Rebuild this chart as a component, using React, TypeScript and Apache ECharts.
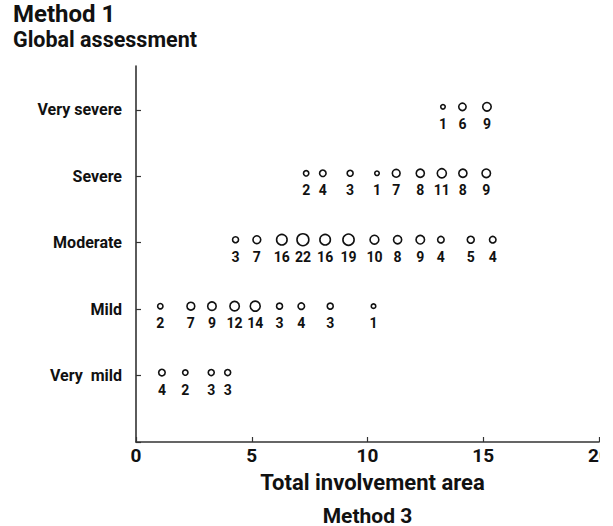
import React, { useEffect, useRef } from "react";
import * as echarts from "echarts";

// Severity categories (y axis, bottom to top)
const severityLabels = ["Very  mild", "Mild", "Moderate", "Severe", "Very severe"];
const xTicks = [0, 5, 10, 15, 20];

// Total involvement area (x) and counts (circle size + label) per severity row
const veryMildX = [1.12, 2.13, 3.25, 3.96];
const veryMildN = [4, 2, 3, 3];
const mildX = [1.05, 2.37, 3.28, 4.26, 5.15, 6.2, 7.14, 8.39, 10.26];
const mildN = [2, 7, 9, 12, 14, 3, 4, 3, 1];
const moderateX = [4.3, 5.22, 6.3, 7.21, 8.17, 9.18, 10.3, 11.3, 12.28, 13.17, 14.46, 15.41];
const moderateN = [3, 7, 16, 22, 16, 19, 10, 8, 9, 4, 5, 4];
const severeX = [7.35, 8.07, 9.25, 10.41, 11.24, 12.28, 13.21, 14.12, 15.13];
const severeN = [2, 4, 3, 1, 7, 8, 11, 8, 9];
const verySevereX = [13.26, 14.1, 15.16];
const verySevereN = [1, 6, 9];

const rowsX = [veryMildX, mildX, moderateX, severeX, verySevereX];
const rowsN = [veryMildN, mildN, moderateN, severeN, verySevereN];

const FONT = "Roboto, 'Open Sans', sans-serif";

export default function App() {
  const ref = useRef<HTMLDivElement>(null);
  useEffect(() => {
    if (!ref.current) return;
    const chart = echarts.init(ref.current, null, { renderer: "svg" });
    const data: number[][] = [];
    rowsX.forEach((xs, r) => {
      xs.forEach((x, i) => data.push([x, r + 1, rowsN[r][i]]));
    });
    chart.setOption({
      animation: false,
      backgroundColor: "#fff",
      grid: { left: 136, right: 14, top: 66, bottom: 84, containLabel: false, outerBoundsMode: "none" },
      graphic: [
        {
          type: "text",
          left: 13,
          top: 2,
          style: { text: "Method 1", font: `bold 24px ${FONT}`, fill: "#111" },
        },
        {
          type: "text",
          left: 13,
          top: 28,
          style: { text: "Global assessment", font: `bold 21.5px ${FONT}`, fill: "#111" },
        },
      ],
      xAxis: {
        type: "value",
        min: 0,
        max: 20,
        interval: 5,
        axisLine: { show: true, lineStyle: { color: "#333", width: 1.6 } },
        axisTick: { show: true, inside: true, length: 5, lineStyle: { color: "#333", width: 1.2 } },
        splitLine: { show: false },
        axisLabel: {
          color: "#111",
          fontFamily: FONT,
          fontWeight: "bold",
          fontSize: 19,
          margin: 4,
          formatter: (v: number) => (xTicks.includes(v) ? String(v) : ""),
        },
        name: "{a|Total involvement area}\n{b|Method 3}",
        nameLocation: "middle",
        nameGap: 24,
        nameTextStyle: {
          color: "#111",
          fontFamily: FONT,
          fontWeight: "bold",
          rich: {
            a: { fontFamily: FONT, fontWeight: "bold", fontSize: 22, lineHeight: 33, color: "#111", padding: [0, 0, 0, 10] },
            b: { fontFamily: FONT, fontWeight: "bold", fontSize: 21, lineHeight: 33, color: "#111" },
          },
        },
      },
      yAxis: {
        type: "value",
        min: 0,
        max: 5.66,
        interval: 1,
        axisLine: { show: true, lineStyle: { color: "#333", width: 1.6 } },
        axisTick: { show: true, inside: true, length: 5, lineStyle: { color: "#333", width: 1.2 } },
        splitLine: { show: false },
        axisLabel: {
          color: "#111",
          fontFamily: FONT,
          fontWeight: "bold",
          fontSize: 16,
          margin: 14,
          showMaxLabel: false,
          formatter: (v: number) => (Number.isInteger(v) && v >= 1 ? severityLabels[v - 1] || "" : ""),
        },
      },
      series: [
        {
          type: "scatter",
          data,
          symbol: "circle",
          symbolSize: (v: number[]) => 2.5 + 2 * Math.sqrt(v[2]),
          symbolOffset: [0, -3],
          itemStyle: { color: "#fff", borderColor: "#111", borderWidth: 1.6, opacity: 1 },
          label: {
            show: true,
            position: "inside",
            offset: [0, 17],
            formatter: (p: any) => String(p.value[2]),
            color: "#111",
            fontFamily: FONT,
            fontWeight: "bold",
            fontSize: 14,
          },
          emphasis: { disabled: true },
        },
      ],
    });
    return () => chart.dispose();
  }, []);
  return (
    <div style={{ position: "fixed", left: 0, top: 0, width: 600, height: 526, overflow: "hidden", background: "#fff" }}>
      <div ref={ref} style={{ width: 613, height: 526 }} />
    </div>
  );
}
